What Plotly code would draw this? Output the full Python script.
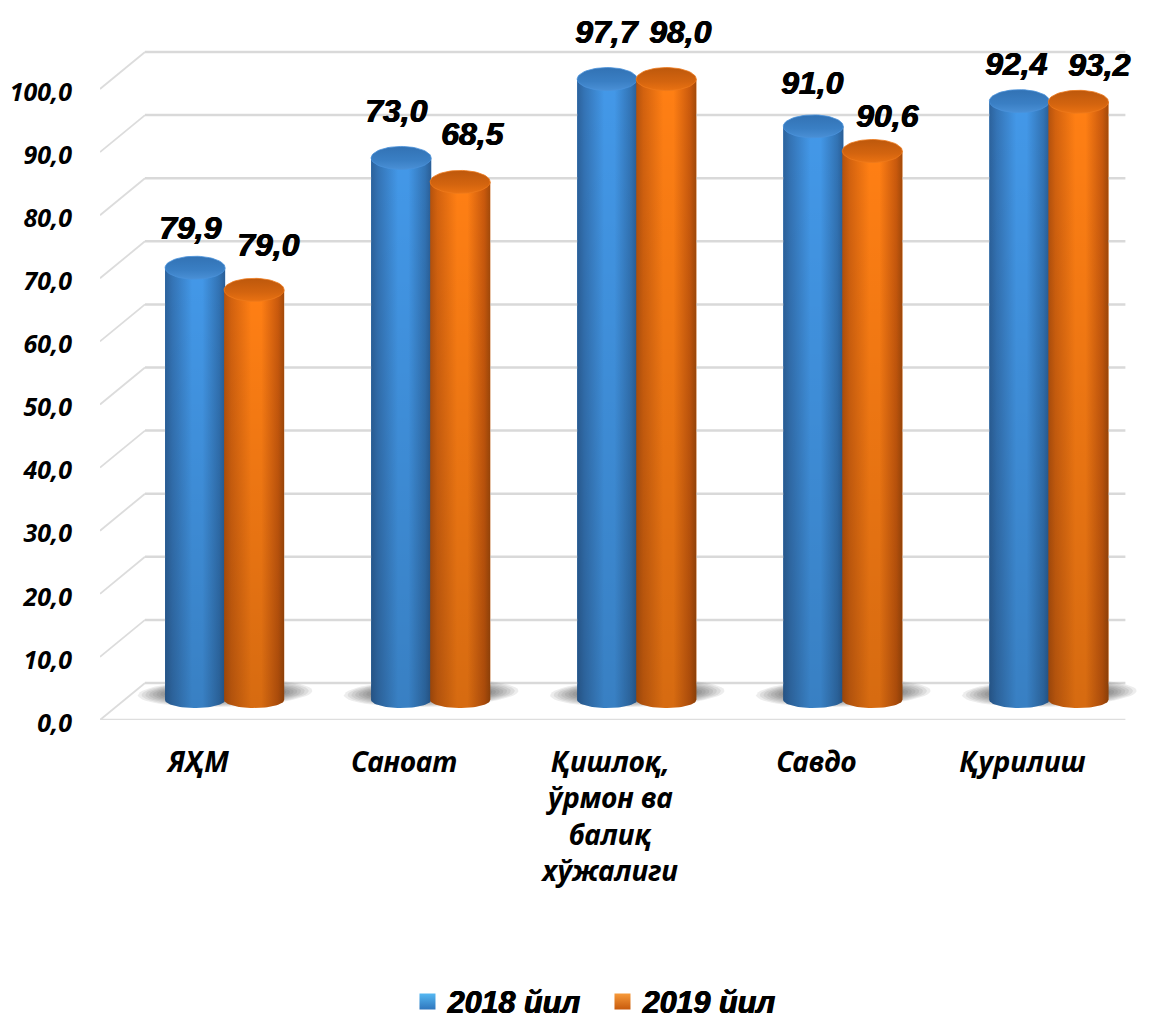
import numpy as np
import plotly.graph_objects as go

# ---- data ----
categories = ["ЯҲМ", "Саноат", "Қишлоқ,<br>ўрмон ва<br>балиқ<br>хўжалиги", "Савдо", "Қурилиш"]
series_names = ["2018 йил", "2019 йил"]
labels_2018 = ["79,9", "73,0", "97,7", "91,0", "92,4"]
labels_2019 = ["79,0", "68,5", "98,0", "90,6", "93,2"]
heights_2018 = [68.5, 85.9, 98.4, 90.9, 94.9]   # drawn heights of the columns
heights_2019 = [65.0, 82.1, 98.4, 87.0, 94.8]
y_ticks = [0, 10, 20, 30, 40, 50, 60, 70, 80, 90, 100]
y_tick_text = ["0,0", "10,0", "20,0", "30,0", "40,0", "50,0", "60,0", "70,0", "80,0", "90,0", "100,0"]

# ---- label nudges (pixels, relative to the column top) ----
dx_2018 = [-5, -5, 0, -1, -3]
dy_2018 = [40, 47, 47, 43, 37]
dx_2019 = [14, 12, 14, 15, 21]
dy_2019 = [45, 48, 47, 35, 37]

# ---- geometry ----
W, H = 1164, 1018
M_L, M_R, M_T, M_B = 100, 18.4, 0, 298
X_RANGE = [-0.476, 4.6]
GRID_END = 4.5
Y_RANGE = [0, 114.1]
PX = (W - M_L - M_R) / (X_RANGE[1] - X_RANGE[0])
PY = (H - M_T - M_B) / (Y_RANGE[1] - Y_RANGE[0])
BASE = 20 / PY
RX = 30 / PX
RY_TOP = 11.5 / PY
RY_BOT = 8 / PY
OFFSETS = [-3 / PX, 56 / PX]
DEPTH_X, DEPTH_Y = 45 / PX, 37 / PY
FONT_CAT = "Noto Sans"
FONT_NUM = "Liberation Sans"
HEAVY = "0.7px 0 0 black, -0.3px 0 0 black"

BLUE = dict(solid="#3b88d0",
            h=[[0, "#2c629c"], [0.12, "#3474b6"], [0.45, "#4398e8"], [0.62, "#4398e8"], [0.9, "#3273b4"], [1, "#2a5e96"]],
            top=[[0, "#3272b4"], [0.6, "#3a7fc4"], [1, "#4a90d6"]], rim="#4a92da")
ORANGE = dict(solid="#ee7212",
              h=[[0, "#b5520d"], [0.12, "#d3620f"], [0.45, "#ff7f14"], [0.62, "#ff7f14"], [0.9, "#c9590d"], [1, "#a34a0a"]],
              top=[[0, "#bd580c"], [0.6, "#d3640f"], [1, "#ea7212"]], rim="#ee7a1c")

fig = go.Figure()

# real columns (values go through the axes), later shaded by the cylinder surfaces
for name, vals, off, st in zip(series_names, [heights_2018, heights_2019], OFFSETS, [BLUE, ORANGE]):
    fig.add_trace(go.Bar(x=list(range(len(categories))), y=vals, base=BASE, width=2 * RX,
                         offset=[off - RX] * len(categories), marker=dict(color=st["solid"], line=dict(width=0)),
                         name=name, showlegend=False, hoverinfo="skip"))

# walls and floor grid
x0 = X_RANGE[0]
x1 = GRID_END
for t in y_ticks:
    fig.add_trace(go.Scatter(x=[x0, x0 + DEPTH_X], y=[t, t + DEPTH_Y], mode="lines",
                             line=dict(color="#dcdcdc", width=1.8), showlegend=False, hoverinfo="skip"))
    fig.add_trace(go.Scatter(x=[x0 + DEPTH_X, x1], y=[t + DEPTH_Y, t + DEPTH_Y], mode="lines",
                             line=dict(color="#d9d9d9", width=2.5), showlegend=False, hoverinfo="skip"))
fig.add_trace(go.Scatter(x=[x0, x1], y=[0, 0], mode="lines", line=dict(color="#dedede", width=2.5),
                         showlegend=False, hoverinfo="skip"))


def ellipse(cx, cy, rx, ry, n=60):
    t = np.linspace(0, 2 * np.pi, n)
    return cx + rx * np.cos(t), cy + ry * np.sin(t)


# floor shadows: soft blob, sheared towards the back-right
for i in range(len(categories)):
    cx = i + 27 / PX
    for k in range(10):
        rx, ry = (86 - 3.6 * k) / PX, (14 - 0.9 * k) / PY
        ex, ey = ellipse(cx, BASE + 7 / PY, rx, ry)
        ex = ex + (ey - (BASE + 7 / PY)) * (PY / PX) * 1.0
        fig.add_trace(go.Scatter(x=ex, y=ey, mode="lines", fill="toself", line=dict(width=0),
                                 fillcolor="rgba(60,60,60,0.09)", showlegend=False, hoverinfo="skip"))


def cylinder(i, off, h, st):
    cx = i + off
    top = BASE + h
    t = np.linspace(0, np.pi, 40)
    xs = np.concatenate([[cx - RX, cx + RX], cx + RX * np.cos(t)])
    ys = np.concatenate([[top, top], BASE - RY_BOT * np.sin(t)])
    fig.add_trace(go.Scatter(x=xs, y=ys, mode="lines", fill="toself", line=dict(width=0),
                             fillgradient=dict(type="horizontal", colorscale=st["h"], start=cx - RX, stop=cx + RX),
                             showlegend=False, hoverinfo="skip"))
    fig.add_trace(go.Scatter(x=xs, y=ys, mode="lines", fill="toself", line=dict(width=0),
                             fillgradient=dict(type="vertical",
                                               colorscale=[[0, "rgba(0,0,0,0)"], [1, "rgba(0,0,0,0.16)"]],
                                               start=top, stop=BASE - RY_BOT),
                             showlegend=False, hoverinfo="skip"))
    ex, ey = ellipse(cx, top, RX, RY_TOP)
    fig.add_trace(go.Scatter(x=ex, y=ey, mode="lines", fill="toself", line=dict(width=0.8, color=st["rim"]),
                             fillgradient=dict(type="vertical", colorscale=st["top"], start=top + RY_TOP, stop=top - RY_TOP),
                             showlegend=False, hoverinfo="skip"))


for i in range(len(categories)):
    for vals, off, st in zip([heights_2018, heights_2019], OFFSETS, [BLUE, ORANGE]):
        cylinder(i, off, vals[i], st)

# value labels
annotations = []
for vals, labs, off, dxs, dys in [(heights_2018, labels_2018, OFFSETS[0], dx_2018, dy_2018),
                                  (heights_2019, labels_2019, OFFSETS[1], dx_2019, dy_2019)]:
    for i in range(len(categories)):
        annotations.append(dict(x=i + off, y=BASE + vals[i], text=labs[i], showarrow=False,
                                xshift=dxs[i], yshift=dys[i], xanchor="center", yanchor="middle",
                                font=dict(family=FONT_NUM, size=32, color="black", weight=700, style="italic",
                                          shadow=HEAVY)))

# legend entries
leg = [("#2f76bd", "#55b8f2"), ("#c75a0c", "#f79a3a")]
for name, (c, g) in zip(series_names, leg):
    fig.add_trace(go.Scatter(x=[None], y=[None], mode="markers", name=name, hoverinfo="skip",
                             marker=dict(symbol="square", size=17, color=g, line=dict(width=0),
                                         gradient=dict(type="vertical", color=c))))

fig.update_layout(
    width=W, height=H,
    autosize=False,
    paper_bgcolor="white", plot_bgcolor="white",
    margin=dict(l=M_L, r=M_R, t=M_T, b=M_B, pad=0, autoexpand=False),
    barmode="overlay",
    annotations=annotations,
    legend=dict(orientation="h", xref="container", yref="container", x=0.5176, xanchor="center",
                y=0.016, yanchor="middle", itemsizing="trace", entrywidth=150, entrywidthmode="pixels",
                font=dict(family=FONT_NUM, size=30.5, color="black", weight=700, style="italic", shadow=HEAVY),
                bgcolor="rgba(0,0,0,0)", tracegroupgap=0),
    xaxis=dict(range=X_RANGE, tickmode="array", tickvals=list(range(len(categories))), ticktext=categories,
               showgrid=False, zeroline=False, showline=False, ticks="", ticklabelstandoff=23,
               tickangle=0, tickfont=dict(family=FONT_CAT, size=28, color="black", weight=700, style="italic")),
    yaxis=dict(range=Y_RANGE, tickmode="array", tickvals=y_ticks, ticktext=y_tick_text,
               showgrid=False, zeroline=False, showline=False, ticks="", ticklabelstandoff=27, ticklabelshift=3,
               tickfont=dict(family=FONT_CAT, size=25, color="black", weight=700, style="italic")),
)
fig.write_html("out.html", config=dict(displayModeBar=False),
               post_script="document.body.style.margin='0';document.body.style.overflow='hidden';")
